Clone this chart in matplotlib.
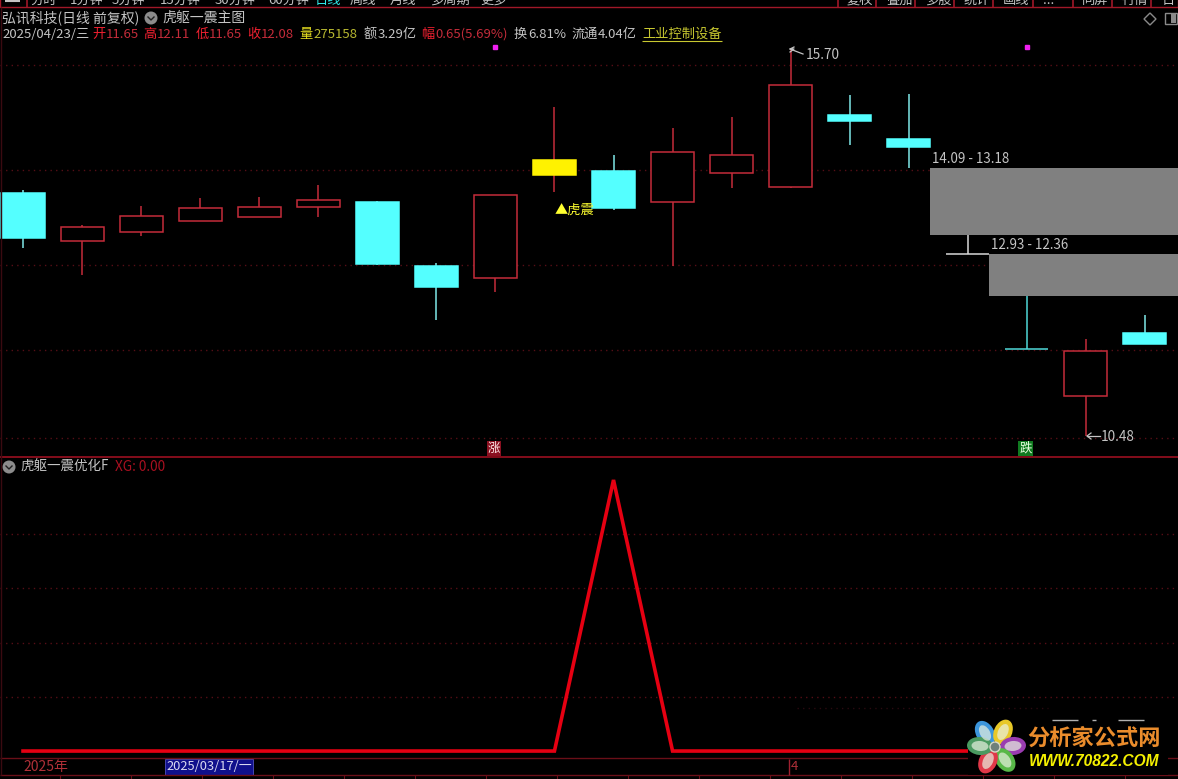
import matplotlib
matplotlib.use('Agg')
import matplotlib.pyplot as plt
from matplotlib.patches import Rectangle, Ellipse, Circle, Polygon

plt.rcParams['font.family'] = ['Noto Sans CJK SC', 'DejaVu Sans']

# candle values
opens = [13.75, 13.10, 13.22, 13.37, 13.43, 13.56, 13.63, 12.77, 12.61, 13.99,
         14.05, 13.63, 14.02, 13.83, 14.80, 14.48, 12.93, 11.65, 11.02, 11.87]
closes = [13.14, 13.29, 13.44, 13.55, 13.56, 13.66, 12.79, 12.48, 13.72, 14.19,
          13.55, 14.30, 14.26, 15.20, 14.72, 14.37, 12.93, 11.65, 11.62, 11.72]
highs = [13.79, 13.32, 13.57, 13.68, 13.70, 13.86, 13.64, 12.81, 13.72, 14.91,
         14.26, 14.62, 14.77, 15.70, 15.07, 15.08, 13.18, 12.36, 11.79, 12.11]
lows = [13.01, 12.65, 13.17, 13.37, 13.43, 13.43, 12.78, 12.04, 12.42, 13.76,
        13.52, 12.77, 13.82, 13.82, 14.40, 14.09, 12.93, 11.65, 10.48, 11.72]
xg = [0, 0, 0, 0, 0, 0, 0, 0, 0, 0, 100, 0, 0, 0, 0, 0, 0, 0, 0, 0]

price_grid = [15.47, 14.06, 12.78, 11.64, 10.45]
xg_grid = [20, 40, 60, 80]
gaps = [(16, 14.09, 13.18), (17, 12.93, 12.36)]

toolbar_left = ['分时', '1分钟', '5分钟', '15分钟', '30分钟', '60分钟', '日线', '周线', '月线', '多周期', '更多']
toolbar_left_x = [30, 70, 112, 160, 215, 268, 315, 350, 390, 430, 480]
toolbar_right = ['复权', '叠加', '多股', '统计', '画线', '...', '同屏', '行情', '日']
toolbar_right_x = [847, 886, 925, 964, 1003, 1043, 1082, 1122, 1162]
toolbar_seps = [27, 838, 876, 915, 954, 993, 1033, 1073, 1112, 1151]

W, H = 1178, 779
RED = '#c42c3a'
CYAN = '#54ffff'
GREY = '#c4c4c4'
GRID = '#560e16'

fig = plt.figure(figsize=(W / 100, H / 100), dpi=100, facecolor='black')


def panel(top, bottom):
    return fig.add_axes([0, 1 - bottom / H, 1, (bottom - top) / H], facecolor='black')


x = list(range(len(opens)))

ax = panel(24, 457)
ax.set_xlim(-0.39, 19.56)
ax.set_ylim(10.197, 16.023)
ax.axis('off')
for level in price_grid:
    ax.axhline(level, color=GRID, lw=1, ls=(0, (1, 3)), zorder=1)

# gap boxes
for i, top, bottom in gaps:
    ax.add_patch(Rectangle((i - 0.64, bottom), 20 - i + 0.64, top - bottom, fc='#808080', ec='none', zorder=2))
    ax.text(i - 0.61, top + 0.12, f'{top:.2f} - {bottom:.2f}', color=GREY, fontsize=9.6, va='center', zorder=6)

# candles
for i in x:
    o, c, h, l = opens[i], closes[i], highs[i], lows[i]
    if i == 9:
        wick, face, edge = RED, '#fff200', '#fff200'
    elif i == 16:
        wick, face, edge = '#d8d8d8', '#d8d8d8', '#d8d8d8'
    elif i == 17:
        wick, face, edge = '#4fd8d8', '#4fd8d8', '#4fd8d8'
    elif c >= o:
        wick, face, edge = RED, 'black', RED
    else:
        wick, face, edge = '#7fe8e8', CYAN, CYAN
    ax.vlines(i, l, h, color=wick, lw=1.1, zorder=3)
    ax.add_patch(Rectangle((i - 0.365, min(o, c)), 0.73, abs(c - o), fc=face, ec=edge, lw=1.1, zorder=4))

ax.plot([8, 17], [15.72, 15.72], ls='none', marker='s', ms=2.2, color='#f020f0', zorder=5)
ax.text(9, 13.52, '▲虎震', color='#ffff30', fontsize=9.5, va='center', ha='left', zorder=6)

ax2 = panel(458, 757)
ax2.set_xlim(-0.39, 19.56)
ax2.set_ylim(-2.2, 108.1)
ax2.axis('off')
for level in xg_grid:
    ax2.axhline(level, color=GRID, lw=1, ls=(0, (1, 3)), zorder=1)
ax2.plot(x, xg, color='#e60012', lw=2.6, solid_joinstyle='miter', zorder=3)

# window chrome, logo and header texts drawn in pixel coordinates
top = fig.add_axes([0, 0, 1, 1], facecolor='none')
top.set_xlim(0, W)
top.set_ylim(H, 0)
top.axis('off')


def label(px, py, s, color=GREY, size=9.5, **kw):
    return top.text(px, py, s, color=color, fontsize=size, va='center', ha=kw.pop('ha', 'left'), **kw)


# toolbar, only the lower edge of it is in the picture
for s, px in zip(toolbar_left + toolbar_right, toolbar_left_x + toolbar_right_x):
    color = '#30e8e8' if s == '日线' else GREY
    label(px, 0.5, s, color=color, size=9.5, clip_on=True)
top.add_patch(Rectangle((0, -2), W, 9.3, fc='none', ec='#a01828', lw=1))
top.vlines(toolbar_seps, 0, 7, color='#a01828', lw=1.2)
top.hlines(1, 5, 20, color=GREY, lw=1.5)

top.hlines([457], 0, W, color='#9a0f20', lw=1.2)
top.hlines([758, 775], 0, W, color='#6a0f18', lw=1)
top.vlines([0.5], 7, 775, color='#3a0a10', lw=1)
top.vlines(range(60, W, 71), 775, 779, color='#6a0f18', lw=0.8)

label(2, 18, '弘讯科技(日线 前复权)', size=10)
top.add_patch(Circle((151, 18), 6.5, fc='#8c8c8c', ec='none'))
top.plot([148, 151, 154], [17, 20, 17], color='#202020', lw=1)
label(162, 18, '虎躯一震主图', size=10)

segments = [(2, '2025/04/23/三', GREY), (92, '开', '#f02030'), (106, '11.65', RED),
            (143, '高', '#f02030'), (157, '12.11', RED), (196, '低', '#f02030'), (209, '11.65', RED),
            (247, '收', '#f02030'), (261, '12.08', RED), (299, '量', '#e8e020'), (313, '275158', '#b8b830'),
            (364, '额', GREY), (378, '3.29亿', GREY), (421, '幅', '#f02030'), (435, '0.65(5.69%)', RED),
            (514, '换', GREY), (528, '6.81%', GREY), (571, '流通', GREY), (598, '4.04亿', GREY),
            (642, '工业控制设备', '#c8c830')]
for px, s, color in segments:
    label(px, 34, s, color=color, size=9.5)
top.hlines(41, 642, 722, color='#c8c830', lw=0.8)

# right hand icons
top.add_patch(Polygon([(1150, 13), (1156, 19), (1150, 25), (1144, 19)], fc='none', ec='#8a8a8a', lw=1))
top.add_patch(Rectangle((1165, 13), 12, 11, fc='none', ec='#8a8a8a', lw=1))
top.add_patch(Rectangle((1171, 14), 5, 9, fc='#8a8a8a', ec='none'))

# high and low marks
top.plot([790, 803], [49, 54], color=GREY, lw=0.9)
top.plot([790, 794, 790, 794], [52, 49, 49, 47], color=GREY, lw=0.9)
label(806, 55, '15.70', size=9.8)
top.plot([1087, 1100], [436, 436], color=GREY, lw=0.9)
top.plot([1091, 1087, 1091], [433, 436, 439], color=GREY, lw=0.9)
label(1101, 437, '10.48', size=9.8)

# rise and fall tags
top.add_patch(Rectangle((487, 441), 14, 15, fc='#8a1020', ec='none'))
label(494, 448.5, '涨', color='#ffe8e8', size=9, ha='center')
top.add_patch(Rectangle((1018, 441), 15, 15, fc='#107a20', ec='none'))
label(1025.5, 448.5, '跌', color='#e8ffe0', size=9, ha='center')

# lower panel header
top.add_patch(Circle((9, 467), 6.5, fc='#8c8c8c', ec='none'))
top.plot([6, 9, 12], [466, 469, 466], color='#202020', lw=1)
label(20, 467, '虎躯一震优化F', size=9.7)
label(115, 467, 'XG: 0.00', color='#a81020', size=9.8)

# date bar
label(23, 767, '2025年', color='#b03038', size=10)
top.add_patch(Rectangle((165, 759), 88, 16, fc='#10108c', ec='#5050c0', lw=0.6))
label(166, 767, '2025/03/17/一', color='#d8d8f0', size=9.3)
top.vlines(789, 759, 775, color='#a02030', lw=1)
label(791, 767, '4', color='#b03038', size=9.5)

# faint leftovers behind the logo
top.hlines(708, 797, 1048, color='#2a0a10', lw=1, ls=(0, (1, 3)))
for x0, x1 in [(1052, 1078), (1092, 1096), (1118, 1144)]:
    top.hlines(720, x0, x1, color='#b0b0b0', lw=1)

# logo
top.add_patch(Rectangle((968, 724), 200, 51, fc='black', ec='none', zorder=5))
petals = [(985, 733, -30, '#3c96dc'), (1003, 732, 25, '#e8c828'), (1013, 746, 85, '#9a3cb0'),
          (1005, 760, 145, '#58b848'), (988, 761, 205, '#e03848'), (980, 746, 275, '#4a9a60')]
for px, py, ang, color in petals:
    top.add_patch(Ellipse((px, py), 18, 26, angle=ang, fc=color, ec='none', zorder=6))
    top.add_patch(Ellipse((px, py), 10, 17, angle=ang, fc='#e8f0e0', ec='none', alpha=0.7, zorder=7))
top.add_patch(Circle((995, 747), 5, fc='#70807a', ec='#d8d8c8', lw=1, zorder=8))
top.text(1027, 738.5, '分析家公式网', color='#ea8c2c', fontsize=16, fontweight='bold', va='center', zorder=8)
top.text(1029, 762, 'WWW.70822.COM', color='#f4f000', fontsize=11.2, fontweight='bold', style='italic',
         family='Liberation Sans', va='center', zorder=8)

fig.savefig('out.png', dpi=100, facecolor='black')
